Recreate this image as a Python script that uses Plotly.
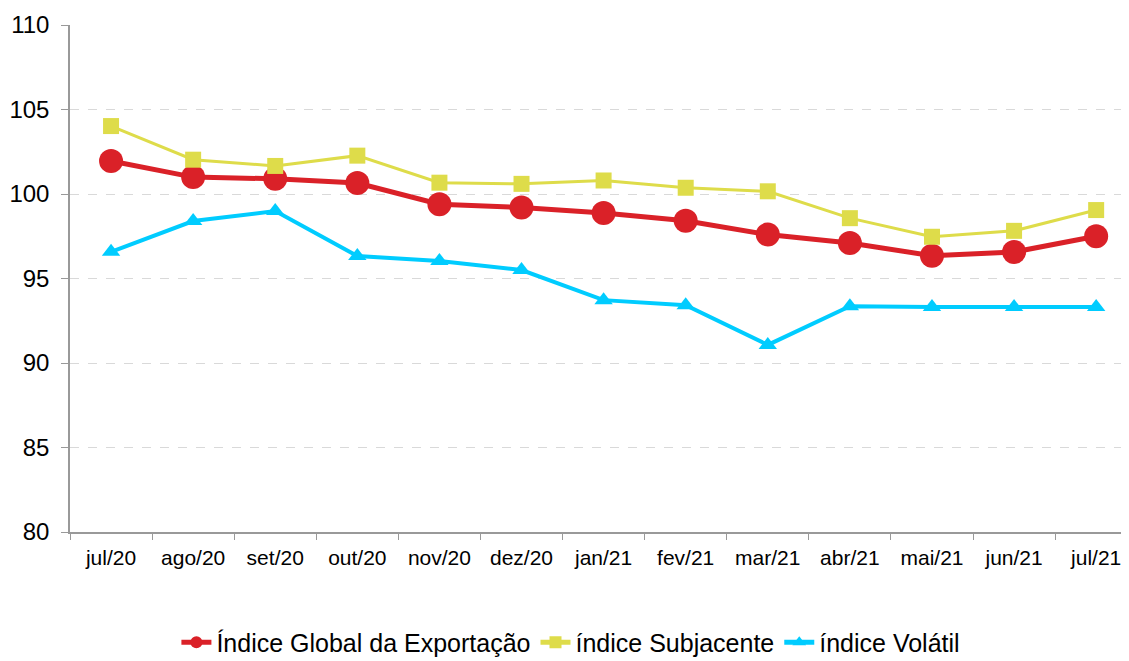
import plotly.graph_objects as go

categories = ["jul/20", "ago/20", "set/20", "out/20", "nov/20", "dez/20", "jan/21",
              "fev/21", "mar/21", "abr/21", "mai/21", "jun/21", "jul/21"]
global_idx = [101.95, 101.0, 100.9, 100.65, 99.4, 99.2, 98.88, 98.42, 97.6, 97.1, 96.35, 96.57, 97.5]
subjacente = [104.02, 102.03, 101.66, 102.27, 100.67, 100.6, 100.8, 100.37, 100.16, 98.57, 97.47, 97.82, 99.05]
volatil = [96.58, 98.4, 98.99, 96.33, 96.04, 95.5, 93.72, 93.42, 91.07, 93.36, 93.31, 93.31, 93.31]
y_ticks = [80, 85, 90, 95, 100, 105, 110]

FONT = "Liberation Sans, Arial, sans-serif"

fig = go.Figure()
fig.add_trace(go.Scatter(
    x=categories, y=global_idx, name="Índice Global da Exportação",
    mode="lines+markers",
    line=dict(color="#DA2128", width=5),
    marker=dict(symbol="circle", size=24, color="#DA2128"),
))
fig.add_trace(go.Scatter(
    x=categories, y=subjacente, name="índice Subjacente",
    mode="lines+markers",
    line=dict(color="#DEDC4A", width=3),
    marker=dict(symbol="square", size=16, color="#DEDC4A"),
))
fig.add_trace(go.Scatter(
    x=categories, y=volatil, name="índice Volátil",
    mode="lines+markers",
    line=dict(color="#00CCFF", width=4),
    marker=dict(symbol="triangle-up", size=16, color="#00CCFF"),
))

# page body has an 8px margin: compensate so the chart lands where the reference has it
fig.update_layout(
    width=1121, height=653,
    margin=dict(l=62, r=0, t=17, b=129, autoexpand=False),
    paper_bgcolor="white", plot_bgcolor="white",
    font=dict(family=FONT, color="#000000"),
    showlegend=True,
    legend=dict(
        orientation="h", x=0.473, xanchor="center",
        y=-0.218, yanchor="middle",
        font=dict(size=25, family=FONT),
        itemsizing="constant", tracegroupgap=0,
    ),
)
fig.update_xaxes(
    type="category", range=[-0.5, 12.4],
    tickson="boundaries", ticks="outside", ticklen=6, tickcolor="#999999",
    showline=True, linecolor="#999999", linewidth=1.5,
    showgrid=False, tickangle=0, automargin=False, ticklabelstandoff=6,
    tickfont=dict(size=21, family=FONT, color="#000000"),
)
fig.update_yaxes(
    range=[80, 110], tickvals=y_ticks,
    ticks="outside", ticklen=7, tickcolor="#999999",
    showline=True, linecolor="#999999", linewidth=1.5,
    showgrid=True, gridcolor="#D9D9D9", griddash="dash", gridwidth=1,
    zeroline=False, ticklabelstandoff=7, automargin=False,
    tickfont=dict(size=24, family=FONT, color="#000000"),
)

fig.write_html("out.html")
